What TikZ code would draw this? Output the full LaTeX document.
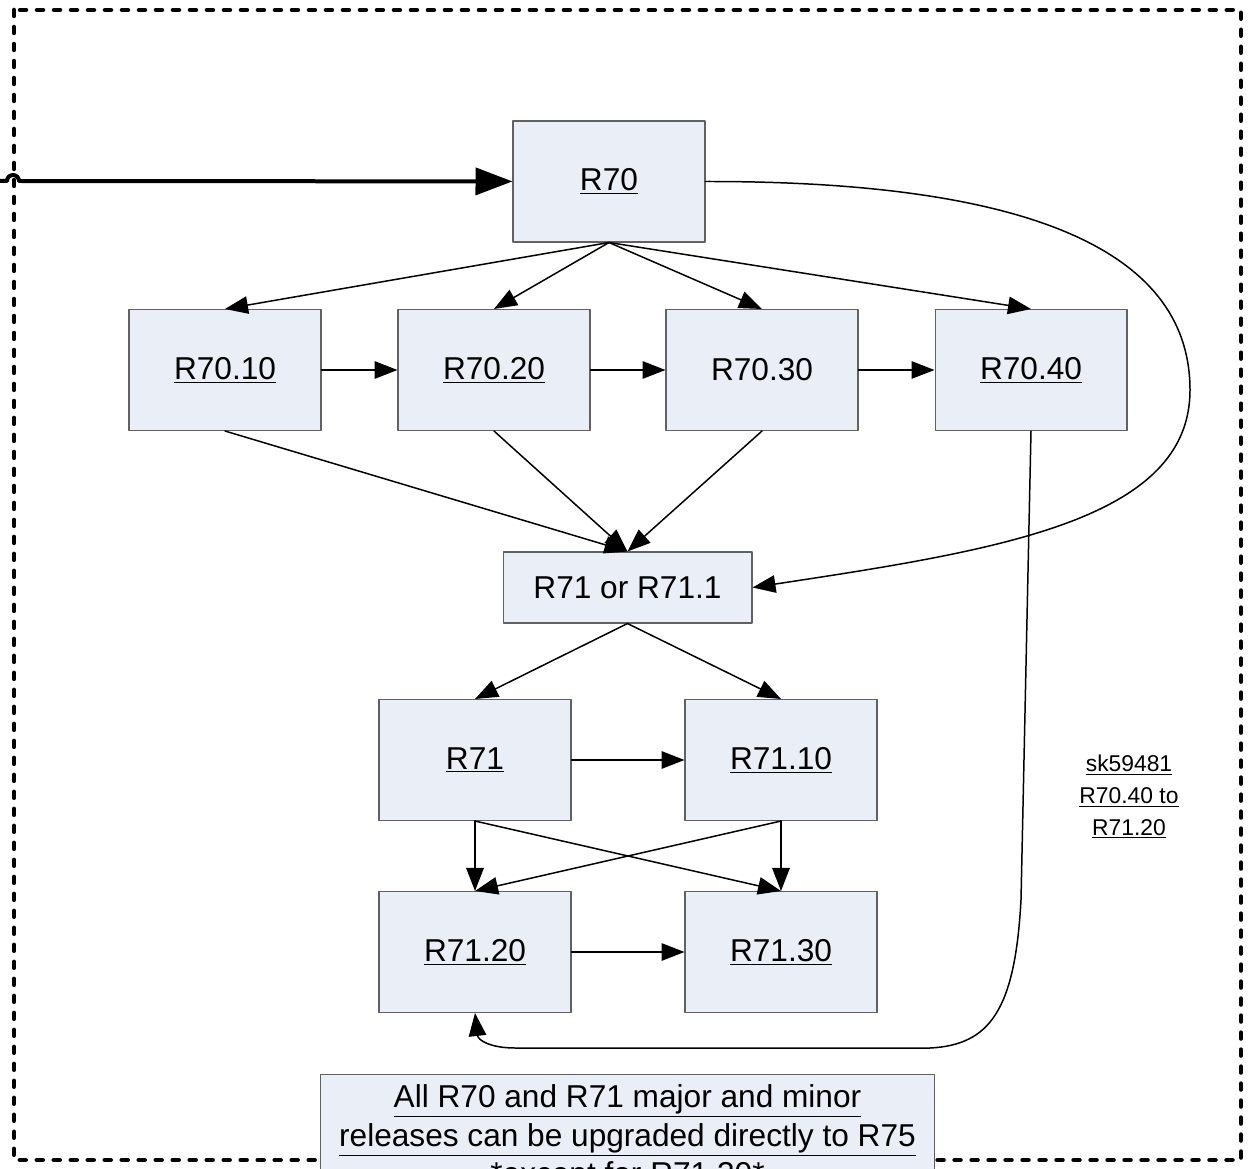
\documentclass[tikz,border=0pt]{standalone}
\usepackage{fontspec}
\setmainfont{Liberation Sans}
\usepackage{tikz}
\usetikzlibrary{arrows.meta}
\definecolor{eaeff8}{rgb}{0.914,0.933,0.969}
\definecolor{sixsix}{rgb}{0.38,0.38,0.38}

\begin{document}
\begin{tikzpicture}[line cap=round,line join=round,>={Triangle[length=0.46cm,width=0.35cm]},x=0.02cm,y=-0.02cm,
  rel/.style={draw=sixsix,fill=eaeff8,line width=0.6pt,minimum width=3.84cm,minimum height=2.42cm,inner sep=0pt,font=\fontsize{18}{22}\selectfont},
  upg/.style={->,line width=0.85pt}]
\useasboundingbox (0,0) rectangle (1248,1169);
\clip (0,0) rectangle (1248,1169);
\draw [line width=0.09cm,dash pattern=on 0.12cm off 0.22cm] (14,10) rectangle (1241,1160);
\node[rel] (r70) at (609,181.5) {\underline{R70}};
\node[rel] (r7010) at (225,370) {\underline{R70.10}};
\node[rel] (r7020) at (494,370) {\underline{R70.20}};
\node[rel] (r7030) at (762,370) {R70.30};
\node[rel] (r7040) at (1031,370) {\underline{R70.40}};
\node[rel,minimum width=4.98cm,minimum height=1.42cm] (r71x) at (627.5,587.5) {R71 or R71.1};
\node[rel] (r71) at (475,760) {\underline{R71}};
\node[rel] (r7110) at (781,760) {\underline{R71.10}};
\node[rel] (r7120) at (475,952) {\underline{R71.20}};
\node[rel] (r7130) at (781,952) {\underline{R71.30}};
\node[rel,anchor=north,minimum width=12.3cm,minimum height=0pt,inner ysep=0.2cm,align=center] (all) at (627.5,1074) {\underline{All R70 and R71 major and minor}\\\underline{releases can be upgraded directly to R75}\\\underline{*except for R71.30*}};
\node[font=\fontsize{13}{18}\selectfont,align=center] (sk) at (1129,797) {\underline{sk59481}\\\underline{R70.40 to}\\\underline{R71.20}};
\draw [->,>={Triangle[length=0.74cm,width=0.54cm]},line width=0.08cm] (0,181) -- (7,181) arc[start angle=180,end angle=0,radius=0.12cm] -- (r70);
\draw [upg] (r70.south) -- (r7010.north);
\draw [upg] (r70.south) -- (r7020.north);
\draw [upg] (r70.south) -- (r7030.north);
\draw [upg] (r70.south) -- (r7040.north);
\draw [upg] (r7010) -- (r7020);
\draw [upg] (r7020) -- (r7030);
\draw [upg] (r7030) -- (r7040);
\draw [upg] (r7010.south) -- (r71x.north);
\draw [upg] (r7020.south) -- (r71x.north);
\draw [upg] (r7030.south) -- (r71x.north);
\draw [upg] (r70.east) .. controls (1050,181) and (1190,260) .. (1190,390) .. controls (1190,520) and (1000,550) .. (r71x.east);
\draw [upg] (r71x.south) -- (r71.north);
\draw [upg] (r71x.south) -- (r7110.north);
\draw [upg] (r71) -- (r7110);
\draw [upg] (r71.south) -- (r7120.north);
\draw [upg] (r71.south) -- (r7130.north);
\draw [upg] (r7110.south) -- (r7120.north);
\draw [upg] (r7110.south) -- (r7130.north);
\draw [upg] (r7120) -- (r7130);
\draw [upg] (r7040.south) -- (1021,900) .. controls (1015,1010) and (990,1045) .. (930,1048) -- (515,1048) .. controls (490,1048) and (478,1040) .. (r7120.south);
\end{tikzpicture}
\end{document}
